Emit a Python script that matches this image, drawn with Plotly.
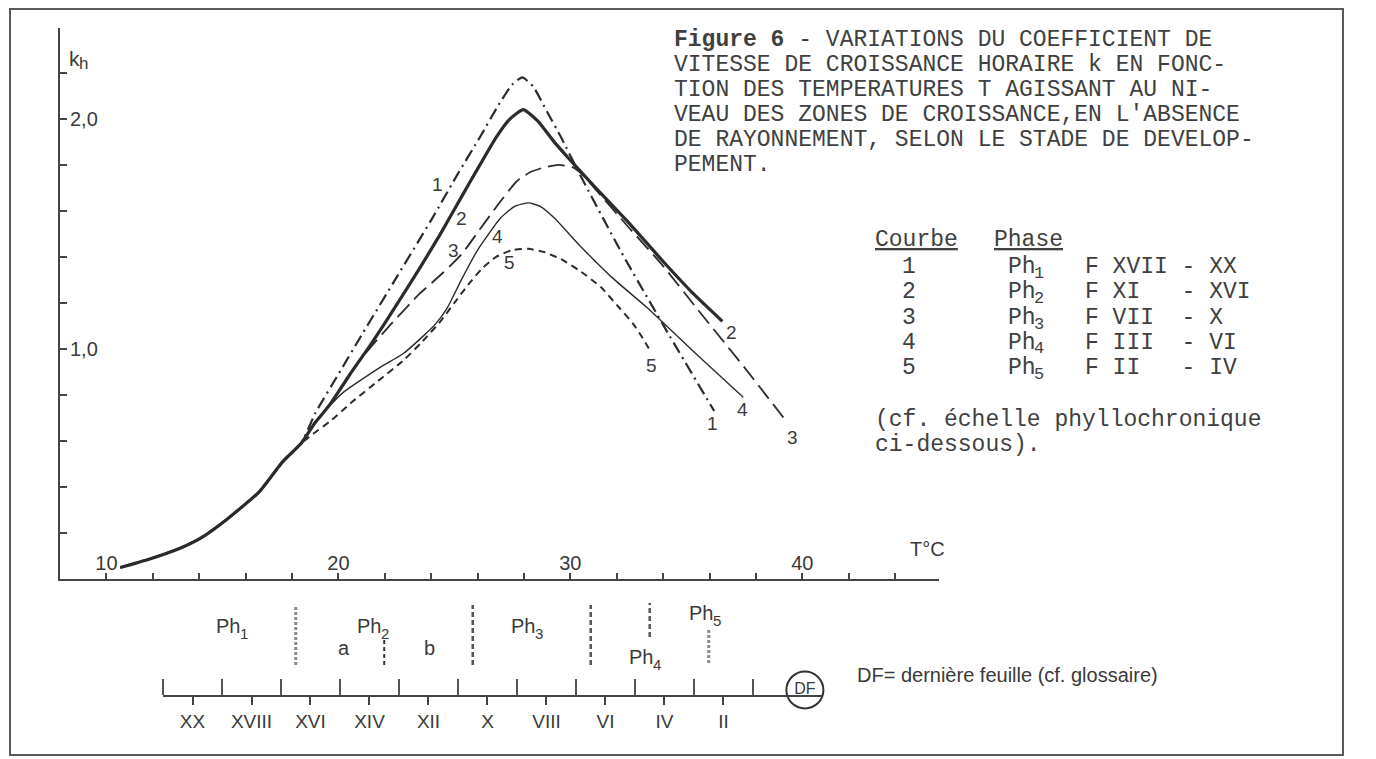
import plotly.graph_objects as go

# The page body has an 8 px margin, so the figure is drawn 8 px in from the
# top-left corner; every screen position below is converted with that offset.
OFF = 8
FW, FH = 1368, 751

# ---------------- data ----------------
T_common = [10.6, 11.8, 13.2, 14.1, 15.2, 16.6, 17.6, 18.4]
k_common = [0.05, 0.085, 0.135, 0.18, 0.26, 0.38, 0.51, 0.59]

T1 = [19.0, 20.0, 21.0, 22.5, 24.0, 25.2, 26.1, 26.9, 27.5, 27.93, 28.4, 29.0, 29.6, 30.4, 32.2, 34.2, 36.2]
k1 = [0.72, 0.89, 1.06, 1.31, 1.56, 1.77, 1.92, 2.06, 2.15, 2.18, 2.14, 2.03, 1.92, 1.76, 1.42, 1.07, 0.73]

T2 = [19.0, 19.65, 20.5, 21.4, 22.5, 23.5, 24.4, 25.3, 26.1, 26.8, 27.4, 27.97, 28.6, 29.3, 30.0, 31.0, 32.5, 34.0, 35.3, 36.55]
k2 = [0.68, 0.76, 0.89, 1.02, 1.19, 1.35, 1.50, 1.66, 1.80, 1.92, 2.00, 2.04, 1.99, 1.90, 1.82, 1.71, 1.55, 1.38, 1.24, 1.12]

T3 = [19.0, 20.0, 21.0, 22.2, 23.5, 24.5, 25.3, 26.1, 26.9, 27.7, 28.3, 28.9, 29.5, 30.1, 30.6, 31.2, 32.5, 34.0, 35.5, 37.5, 39.35]
k3 = [0.68, 0.81, 0.96, 1.10, 1.24, 1.33, 1.41, 1.52, 1.63, 1.73, 1.77, 1.79, 1.80, 1.79, 1.75, 1.68, 1.53, 1.36, 1.17, 0.92, 0.68]

T4 = [19.0, 19.6, 20.2, 20.9, 21.8, 22.8, 23.7, 24.2, 24.7, 25.3, 26.0, 27.0, 27.6, 28.2, 28.7, 29.3, 30.4, 31.8, 33.3, 35.4, 37.45]
k4 = [0.68, 0.75, 0.81, 0.86, 0.92, 0.98, 1.06, 1.11, 1.18, 1.30, 1.43, 1.57, 1.62, 1.635, 1.62, 1.57, 1.45, 1.31, 1.18, 0.98, 0.79]

T5 = [18.9, 19.7, 20.6, 21.7, 22.8, 23.6, 24.4, 25.0, 25.6, 26.2, 26.8, 27.5, 28.2, 28.9, 29.6, 30.4, 31.3, 32.1, 32.7, 33.1, 33.45]
k5 = [0.63, 0.69, 0.77, 0.86, 0.95, 1.03, 1.12, 1.20, 1.28, 1.35, 1.40, 1.43, 1.435, 1.42, 1.39, 1.34, 1.27, 1.18, 1.11, 1.05, 0.99]

curve_names = ["1", "2", "3", "4", "5"]
curve_T = [T1, T2, T3, T4, T5]
curve_k = [k1, k2, k3, k4, k5]

# curve number labels (rising side and end side), in data units
label_start = [(24.27, 1.713), (25.30, 1.565), (24.96, 1.43), (26.85, 1.49), (27.37, 1.374)]
label_end = [(36.12, 0.674), (36.94, 1.07), (39.57, 0.617), (37.41, 0.735), (33.49, 0.926)]

x_tick_vals = [10, 20, 30, 40]
x_tick_text = ["10", "20", "30", "40"]
x_minor_vals = [v for v in range(12, 46, 2) if v not in x_tick_vals]
y_tick_vals = [1.0, 2.0]
y_tick_text = ["1,0", "2,0"]
y_minor_vals = [0.2, 0.4, 0.6, 0.8, 1.2, 1.4, 1.6, 1.8, 2.2]

# phyllochronic scale (leaf rank, XX ... II, DF)
leaf_even = [20, 18, 16, 14, 12, 10, 8, 6, 4, 2]
leaf_even_text = ["XX", "XVIII", "XVI", "XIV", "XII", "X", "VIII", "VI", "IV", "II"]
leaf_odd = [21, 19, 17, 15, 13, 11, 9, 7, 5, 3, 1]
DF_rank = -0.76

phase_bounds = [16.5, 13.5, 10.5, 6.5, 4.5, 2.5]
phase_bound_y0 = [30, 30, 30, 30, 58, 32]
phase_bound_y1 = [90, 55, 90, 90, 92, 65]
phase_sub = ["1", "2", "3", "4", "5"]
phase_ph_x = [18.32, 13.54, 8.32, 4.32, 2.29]   # leaf rank where "Ph" ends
phase_ph_y = [69, 69, 69, 38, 82]
sub_letters = ["a", "b"]
sub_letter_x = [14.86, 11.98]
sub_letter_y = [47, 47]

title_lines = [
    "<b>Figure 6</b> - VARIATIONS DU COEFFICIENT DE",
    "VITESSE DE CROISSANCE HORAIRE k EN FONC-",
    "TION DES TEMPERATURES T AGISSANT AU NI-",
    "VEAU DES ZONES DE CROISSANCE,EN L'ABSENCE",
    "DE RAYONNEMENT, SELON LE STADE DE DEVELOP-",
    "PEMENT.",
]
leg_num = ["1", "2", "3", "4", "5"]
leg_sub = ["1", "2", "3", "4", "5"]
leg_range = ["F XVII - XX", "F XI   - XVI", "F VII  - X", "F III  - VI", "F II   - IV"]

# ---------------- styling ----------------
INK = "#2b2b2b"
TXT = "#3a3a3a"
MTXT = "#404040"
SANS = "Liberation Sans, Arial, sans-serif"
MONO = "Liberation Mono, DejaVu Sans Mono, monospace"
MSIZE = 23
line_styles = [
    dict(color=INK, width=2.2, dash="12px,5px,2px,5px"),
    dict(color=INK, width=3.2, dash="solid"),
    dict(color=INK, width=1.8, dash="17px,7px"),
    dict(color=INK, width=1.4, dash="solid"),
    dict(color=INK, width=2.0, dash="7px,5px"),
]


def fx(p):
    return (p - OFF) / FW


def fy(p):
    return 1 - (p - OFF) / FH


fig = go.Figure()

for name, T, k, st in zip(curve_names, curve_T, curve_k, line_styles):
    fig.add_trace(go.Scatter(
        x=T_common + T, y=k_common + k, mode="lines", name=name,
        line=dict(shape="spline", smoothing=0.5, **st),
        hoverinfo="skip", showlegend=False, xaxis="x", yaxis="y"))

# phase boundaries on the phyllochronic scale
bound_styles = [
    dict(color="#8a8a8a", width=3, dash="3px,2px"),
    dict(color="#333333", width=2, dash="4px,3px"),
    dict(color="#555555", width=2.5, dash="5px,3px"),
    dict(color="#555555", width=2.5, dash="5px,3px"),
    dict(color="#555555", width=2.5, dash="5px,3px"),
    dict(color="#8a8a8a", width=3, dash="3px,2px"),
]
for xb, y0, y1, st in zip(phase_bounds, phase_bound_y0, phase_bound_y1, bound_styles):
    fig.add_trace(go.Scatter(x=[xb, xb], y=[y0, y1], mode="lines", line=st,
                             hoverinfo="skip", showlegend=False, xaxis="x2", yaxis="y2"))

# DF circle
fig.add_trace(go.Scatter(
    x=[DF_rank], y=[5], mode="markers+text", text=["DF"], textposition="middle center",
    textfont=dict(family=SANS, size=16, color=TXT),
    marker=dict(symbol="circle-open", size=37, line=dict(color="#333333", width=2), color="#333333"),
    cliponaxis=False, hoverinfo="skip", showlegend=False, xaxis="x2", yaxis="y2"))

annotations = []


def ann(**kw):
    kw.setdefault("showarrow", False)
    annotations.append(kw)


for name, (xs, ys), (xe, ye) in zip(curve_names, label_start, label_end):
    for (xx, yy) in [(xs, ys), (xe, ye)]:
        ann(x=xx, y=yy, xref="x", yref="y", text=name, font=dict(family=SANS, size=19, color=TXT))

# phase labels on the phyllochronic scale ("Ph" + subscript)
for s, xx, yy in zip(phase_sub, phase_ph_x, phase_ph_y):
    ann(x=xx, y=yy, xref="x2", yref="y2", xanchor="right", text="Ph",
        font=dict(family=SANS, size=20, color=TXT))
    ann(x=xx, y=yy, xref="x2", yref="y2", xanchor="left", yshift=-7, xshift=-4, text=s,
        font=dict(family=SANS, size=15, color=TXT))
for t, xx, yy in zip(sub_letters, sub_letter_x, sub_letter_y):
    ann(x=xx, y=yy, xref="x2", yref="y2", text=t, font=dict(family=SANS, size=20, color=TXT))

# axis titles
ann(x=fx(67), y=fy(45), xref="paper", yref="paper", xanchor="left", text="k",
    font=dict(family=SANS, size=21, color=TXT))
ann(x=fx(77), y=fy(52), xref="paper", yref="paper", xanchor="left", text="h",
    font=dict(family=SANS, size=17, color=TXT))
ann(x=fx(908), y=fy(562), xref="paper", yref="paper", xanchor="left", text="T°C",
    font=dict(family=SANS, size=20, color=TXT))

# caption
for i, line in enumerate(title_lines):
    ann(x=fx(672), y=fy(40 + 25 * i), xref="paper", yref="paper", xanchor="left",
        yanchor="middle", text=line, font=dict(family=MONO, size=MSIZE, color=MTXT))

ann(x=fx(873), y=fy(225), xref="paper", yref="paper", xanchor="left", text="<u>Courbe</u>",
    font=dict(family=MONO, size=MSIZE, color=MTXT))
ann(x=fx(992), y=fy(225), xref="paper", yref="paper", xanchor="left", text="<u>Phase</u>",
    font=dict(family=MONO, size=MSIZE, color=MTXT))
row_y = [267, 292, 318, 343, 368]
for n, s, rg, yy in zip(leg_num, leg_sub, leg_range, row_y):
    ann(x=fx(909), y=fy(yy), xref="paper", yref="paper", xanchor="center", text=n,
        font=dict(family=MONO, size=MSIZE, color=MTXT))
    ann(x=fx(1006), y=fy(yy), xref="paper", yref="paper", xanchor="left", text="Ph",
        font=dict(family=MONO, size=MSIZE, color=MTXT))
    ann(x=fx(1032), y=fy(yy + 6), xref="paper", yref="paper", xanchor="left", text=s,
        font=dict(family=MONO, size=17, color=MTXT))
    ann(x=fx(1083), y=fy(yy), xref="paper", yref="paper", xanchor="left",
        text=rg.replace(" ", "\u00a0"), font=dict(family=MONO, size=MSIZE, color=MTXT))
ann(x=fx(873), y=fy(420), xref="paper", yref="paper", xanchor="left",
    text="(cf. échelle phyllochronique", font=dict(family=MONO, size=MSIZE, color=MTXT))
ann(x=fx(873), y=fy(445), xref="paper", yref="paper", xanchor="left",
    text="ci-dessous).", font=dict(family=MONO, size=MSIZE, color=MTXT))

ann(x=fx(855), y=fy(688), xref="paper", yref="paper", xanchor="left",
    text="DF= dernière feuille (cf. glossaire)", font=dict(family=SANS, size=20, color=TXT))

shapes = [
    dict(type="rect", xref="paper", yref="paper", x0=fx(10), x1=fx(1343), y0=fy(9), y1=fy(755),
         line=dict(color="#5a5a5a", width=2)),
]

axis_font = dict(family=SANS, size=20, color=TXT)

fig.update_layout(
    width=FW, height=FH, margin=dict(l=0, r=0, t=0, b=0),
    paper_bgcolor="white", plot_bgcolor="white", showlegend=False,
    xaxis=dict(domain=[fx(60), fx(939)], range=[8.0, 45.89], anchor="y",
               showline=True, linecolor="#444444", linewidth=2,
               ticks="inside", ticklen=6, tickwidth=1.5, tickcolor="#444444",
               tickmode="array", tickvals=x_tick_vals, ticktext=x_tick_text,
               ticklabelposition="inside", tickfont=axis_font,
               showgrid=False, zeroline=False,
               minor=dict(tickmode="array", tickvals=x_minor_vals, ticks="inside",
                          ticklen=6, tickwidth=1.5, tickcolor="#444444", showgrid=False)),
    yaxis=dict(domain=[fy(579), fy(28)], range=[0, 2.395], anchor="x",
               showline=True, linecolor="#444444", linewidth=2,
               ticks="inside", ticklen=7, tickwidth=1.5, tickcolor="#444444",
               tickmode="array", tickvals=y_tick_vals, ticktext=y_tick_text,
               ticklabelposition="inside", ticklabelstandoff=4, tickfont=axis_font,
               showgrid=False, zeroline=False,
               minor=dict(tickmode="array", tickvals=y_minor_vals, ticks="inside",
                          ticklen=7, tickwidth=1.5, tickcolor="#444444", showgrid=False)),
    xaxis2=dict(domain=[fx(163), fx(822)], range=[21, -1.34], anchor="y2",
                showline=True, linecolor="#444444", linewidth=2,
                ticks="outside", ticklen=8, tickwidth=1.5, tickcolor="#444444",
                tickmode="array", tickvals=leaf_even, ticktext=leaf_even_text,
                tickfont=dict(family=SANS, size=19, color=TXT),
                showgrid=False, zeroline=False,
                minor=dict(tickmode="array", tickvals=leaf_odd, ticks="inside",
                           ticklen=16, tickwidth=1.5, tickcolor="#555555", showgrid=False)),
    yaxis2=dict(domain=[fy(695), fy(590)], range=[0, 105], anchor="x2", visible=False),
    annotations=annotations, shapes=shapes,
)

fig.write_html("out.html")
